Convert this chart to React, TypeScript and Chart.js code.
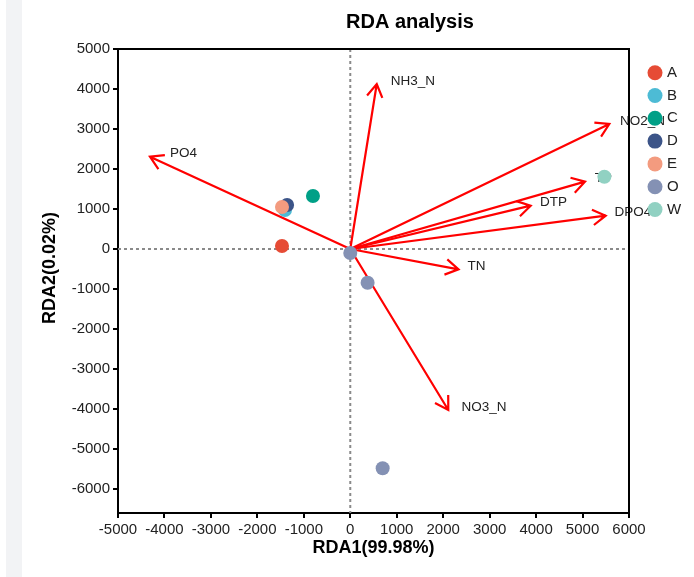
import React, { useEffect, useRef } from 'react';
import { Chart, registerables } from 'chart.js';

Chart.register(...registerables);

// ---- Data ----
const groupNames = ['A', 'B', 'C', 'D', 'E', 'O', 'W'];
const groupColors = ['#E64B35', '#4DBBD5', '#00A087', '#3C5488', '#F39B7F', '#8491B4', '#91D1C2'];

const sampleGroups = ['A', 'B', 'C', 'D', 'E', 'O', 'O', 'O', 'W'];
const sampleRDA1 = [-1470, -1405, -803, -1360, -1470, 0, 373, 697, 5470];
const sampleRDA2 = [75, 975, 1325, 1100, 1050, -100, -842, -5483, 1808];

const envNames = ['NH3_N', 'NO2_N', 'TP', 'DTP', 'DPO4', 'TN', 'NO3_N', 'PO4'];
const envRDA1 = [570, 5576, 5053, 3883, 5498, 2330, 2110, -4312];
const envRDA2 = [4125, 3125, 1683, 1083, 833, -510, -4025, 2308];

const xTicks = [-5000, -4000, -3000, -2000, -1000, 0, 1000, 2000, 3000, 4000, 5000, 6000];
const yTicks = [-6000, -5000, -4000, -3000, -2000, -1000, 0, 1000, 2000, 3000, 4000, 5000];
const xRange = [-5000, 6000];
const yRange = [-6600, 5000];

const chartTitle = 'RDA analysis';
const xTitle = 'RDA1(99.98%)';
const yTitle = 'RDA2(0.02%)';

const FONT = '"Liberation Sans", Arial, Helvetica, sans-serif';
const TEXT = '#222222';

const overlayPlugin = {
  id: 'rdaOverlay',
  beforeDatasetsDraw(chart: any) {
    const { ctx, chartArea: a, scales } = chart;
    const x = scales.x;
    const y = scales.y;
    const x0 = x.getPixelForValue(0);
    const y0 = y.getPixelForValue(0);
    ctx.save();
    // zero lines
    ctx.strokeStyle = '#8a8a8a';
    ctx.lineWidth = 2;
    ctx.setLineDash([3, 3]);
    ctx.beginPath();
    ctx.moveTo(a.left, y0);
    ctx.lineTo(a.right, y0);
    ctx.moveTo(x0, a.top);
    ctx.lineTo(x0, a.bottom);
    ctx.stroke();
    ctx.setLineDash([]);
    // arrows
    const L = 15;
    const h = (31 * Math.PI) / 180;
    ctx.strokeStyle = '#ff0000';
    ctx.lineWidth = 2.2;
    ctx.lineJoin = 'miter';
    ctx.lineCap = 'butt';
    envNames.forEach((_, i) => {
      const tx = x.getPixelForValue(envRDA1[i]);
      const ty = y.getPixelForValue(envRDA2[i]);
      const ang = Math.atan2(ty - y0, tx - x0);
      ctx.beginPath();
      ctx.moveTo(x0, y0);
      ctx.lineTo(tx, ty);
      ctx.moveTo(tx - L * Math.cos(ang - h), ty - L * Math.sin(ang - h));
      ctx.lineTo(tx, ty);
      ctx.lineTo(tx - L * Math.cos(ang + h), ty - L * Math.sin(ang + h));
      ctx.stroke();
    });
    // labels
    ctx.fillStyle = TEXT;
    ctx.font = `13.5px ${FONT}`;
    ctx.textAlign = 'left';
    ctx.textBaseline = 'middle';
    envNames.forEach((n, i) => {
      const tx = x.getPixelForValue(envRDA1[i]);
      const ty = y.getPixelForValue(envRDA2[i]);
      const ang = Math.atan2(ty - y0, tx - x0);
      const dx = Math.cos(ang) < 0 ? 20 : 8 + 6 * Math.abs(Math.sin(ang));
      ctx.fillText(n, tx + dx, ty - 3);
    });
    ctx.restore();
  },
  afterDraw(chart: any) {
    const { ctx, chartArea: a } = chart;
    ctx.save();
    // frame top/right
    ctx.strokeStyle = '#000';
    ctx.lineWidth = 2;
    ctx.beginPath();
    ctx.moveTo(a.left, a.top);
    ctx.lineTo(a.right, a.top);
    ctx.lineTo(a.right, a.bottom);
    ctx.stroke();
    // legend
    ctx.font = `15px ${FONT}`;
    ctx.textAlign = 'left';
    ctx.textBaseline = 'middle';
    groupNames.forEach((g, i) => {
      const cy = 72.7 + i * 22.8;
      ctx.fillStyle = groupColors[i];
      ctx.beginPath();
      ctx.arc(655, cy, 7.5, 0, Math.PI * 2);
      ctx.fill();
      ctx.fillStyle = TEXT;
      ctx.fillText(g, 667, cy);
    });
    // titles
    ctx.fillStyle = '#000';
    ctx.textAlign = 'center';
    ctx.textBaseline = 'alphabetic';
    ctx.font = `bold 20px ${FONT}`;
    ctx.fillText(chartTitle, 410, 28);
    ctx.textBaseline = 'middle';
    ctx.font = `bold 18px ${FONT}`;
    ctx.fillText(xTitle, (a.left + a.right) / 2, 548);
    ctx.translate(50, 268);
    ctx.rotate(-Math.PI / 2);
    ctx.fillText(yTitle, 0, 0);
    ctx.restore();
  },
};

export default function App() {
  const ref = useRef<HTMLCanvasElement | null>(null);

  useEffect(() => {
    if (!ref.current) return;
    const datasets = groupNames.map((g, gi) => ({
      label: g,
      data: sampleGroups
        .map((sg, i) => (sg === g ? { x: sampleRDA1[i], y: sampleRDA2[i] } : null))
        .filter((p) => p !== null),
      backgroundColor: groupColors[gi],
      borderWidth: 0,
      pointRadius: 7,
      pointHoverRadius: 7,
      order: groupNames.length - gi,
    }));

    const axisCommon = {
      type: 'linear' as const,
      grid: { drawOnChartArea: false, drawTicks: true, tickLength: 5, color: '#000', lineWidth: 2 },
      border: { color: '#000', width: 2 },
      ticks: {
        color: TEXT,
        font: { family: FONT, size: 15 },
        padding: 3,
        autoSkip: false,
        maxRotation: 0,
        callback: (v: any) => String(v),
      },
    };

    const chart = new Chart(ref.current, {
      type: 'scatter',
      data: { datasets: datasets as any },
      plugins: [overlayPlugin],
      options: {
        responsive: false,
        animation: false,
        events: [],
        layout: { padding: { top: 49, right: 65, left: 0, bottom: 0 } },
        plugins: { legend: { display: false }, tooltip: { enabled: false }, title: { display: false } },
        scales: {
          x: {
            ...axisCommon,
            min: xRange[0],
            max: xRange[1],
            afterBuildTicks: (s: any) => {
              s.ticks = xTicks.map((v) => ({ value: v }));
            },
            afterFit: (s: any) => {
              s.height = 64;
            },
          },
          y: {
            ...axisCommon,
            min: yRange[0],
            max: yRange[1],
            afterBuildTicks: (s: any) => {
              s.ticks = yTicks.map((v) => ({ value: v }));
            },
            afterFit: (s: any) => {
              s.width = 118;
            },
          },
        },
      } as any,
    });
    return () => chart.destroy();
  }, []);

  return (
    <div style={{ position: 'absolute', left: 0, top: 0, width: 694, height: 577, background: '#fff' }}>
      <div style={{ position: 'absolute', left: 6, top: 0, width: 16, height: 577, background: '#f2f3f5' }} />
      <canvas ref={ref} width={694} height={577} style={{ position: 'absolute', left: 0, top: 0, width: 694, height: 577 }} />
    </div>
  );
}
